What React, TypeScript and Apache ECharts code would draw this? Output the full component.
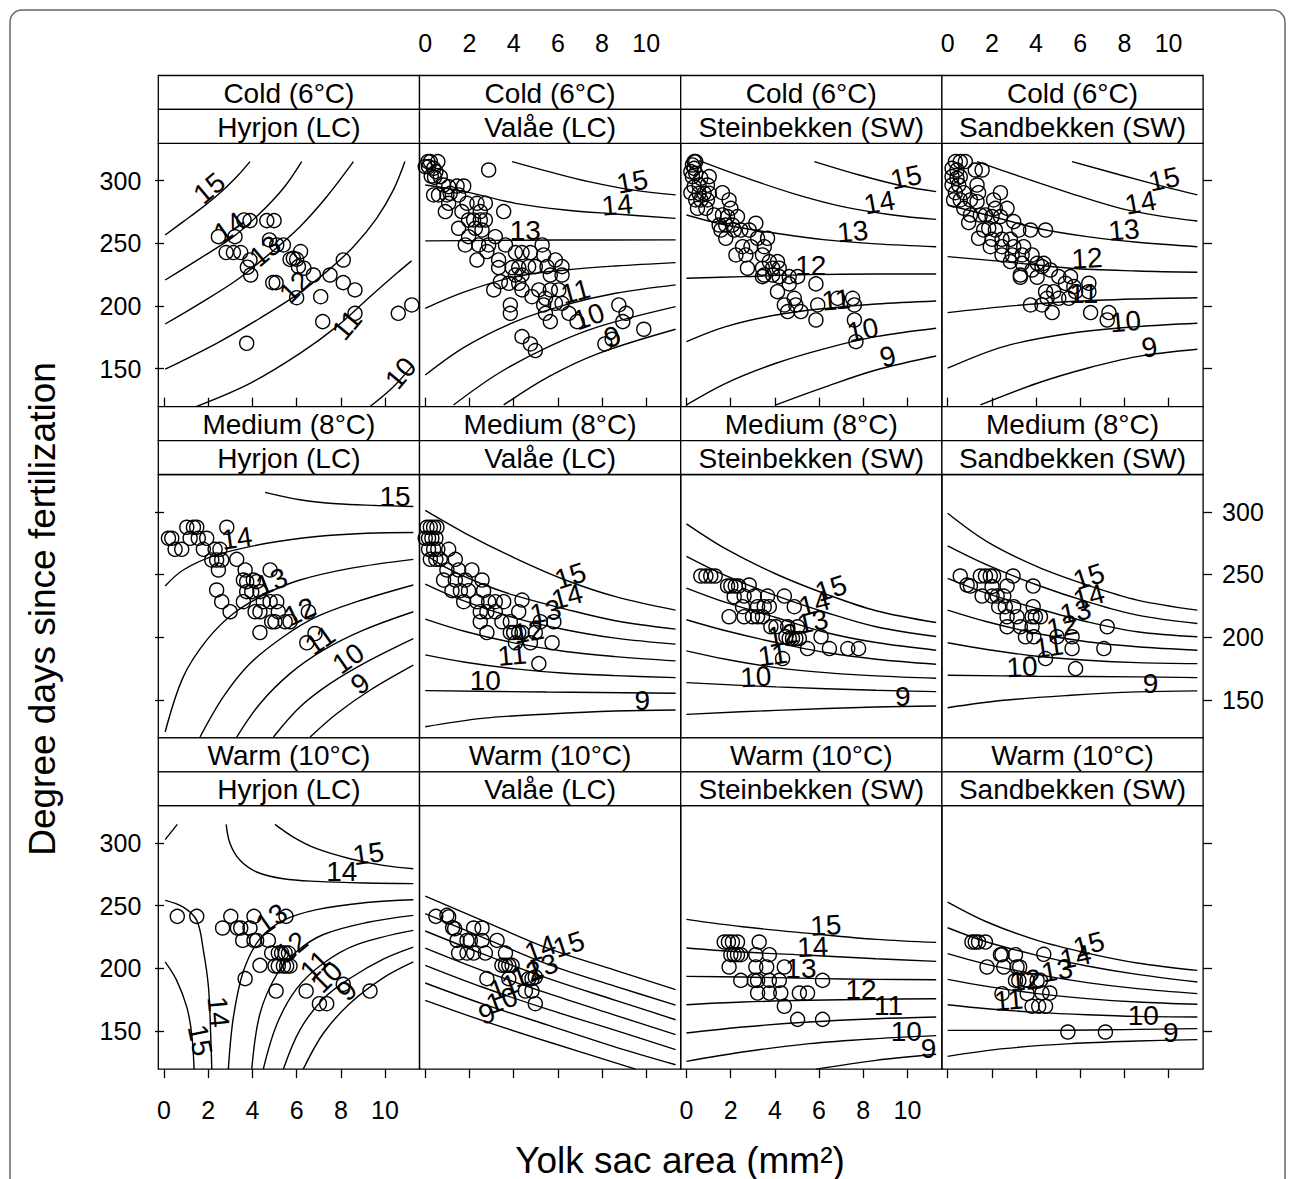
import React, { useEffect, useRef } from "react";
import * as echarts from "echarts";

// ---------- categories & ticks ----------
const temps = ["Cold (6°C)", "Medium (8°C)", "Warm (10°C)"];
const rivers = ["Hyrjon (LC)", "Valåe (LC)", "Steinbekken (SW)", "Sandbekken (SW)"];
const xTicks = [0, 2, 4, 6, 8, 10];
const yTicks = [150, 200, 250, 300];
const xRange = [-0.26, 11.56];
const yRange = [119.6, 329.8];
const xTitle = "Yolk sac area (mm²)";
const yTitle = "Degree days since fertilization";

// ---------- Cold / Hyrjon ----------
const ptsColdHyrjon = [[2.46,255.3],[3.21,255.3],[2.81,242.6],[3.14,242.6],[3.47,242.6],[3.62,268.6],[3.89,268.1],[4.65,268.1],[4.98,268.1],[3.89,236.7],[3.77,230.9],[3.92,224.7],[4.77,252.7],[5.10,248.7],[5.40,248.7],[5.70,237.2],[6.00,237.2],[6.18,243.4],[6.08,231.4],[6.33,230.1],[6.76,224.7],[7.51,224.7],[8.11,236.7],[8.11,218.6],[8.64,212.8],[4.92,218.6],[5.07,218.6],[6.00,206.6],[7.09,207.4],[7.18,187.5],[8.64,194.1],[3.74,170.2],[10.60,194.1],[11.21,200.8],[5.85,238.0]];
const cntColdHyrjon = [
  [15, [[0.05,256.6],[0.87,267.3],[1.78,279.3],[2.68,292.6],[3.36,304.5],[3.89,315.2]]],
  [14, [[0.05,220.7],[1.63,238.0],[3.14,255.3],[4.34,273.9],[5.40,293.9],[6.23,315.2]]],
  [13, [[0.05,185.6],[1.63,202.1],[3.29,220.7],[4.80,242.0],[6.15,263.3],[7.36,287.2],[8.57,315.2]]],
  [12, [[0.05,149.5],[2.38,170.2],[4.34,190.2],[6.00,208.8],[7.36,227.4],[8.57,247.3],[9.62,269.9],[10.38,292.6],[10.9,315.2]]],
  [11, [[1.45,119.7],[3.89,138.3],[6.15,162.2],[7.81,183.5],[9.32,207.4],[10.53,226.1],[11.2,236.0]]],
  [10, [[9.32,119.7],[10.38,135.6],[11.2,151.6]]],
];
const labColdHyrjon = [[2.05,293.9,"15",40],[2.96,262.8,"14",35],[4.57,243.9,"13",40],[5.93,215.4,"12",45],[8.27,184.8,"11",50],[10.71,146.3,"10",50]];

// ---------- Cold / Valåe ----------
const ptsColdValae = [[0.12,315.2],[0.23,315.2],[0.57,315.2],[0,311.2],[0.15,311.2],[0.38,309.8],[0.48,307.2],[0.27,303.7],[0.42,302.7],[0.68,303.2],[0.83,296.5],[1.06,295.2],[1.44,295.7],[1.74,295.7],[0.38,288.6],[0.60,288.6],[0.98,288.6],[1.13,289.9],[1.51,288.6],[1.06,281.9],[0.91,275.3],[1.89,281.9],[2.34,281.9],[2.72,281.9],[1.66,275.3],[2.49,275.3],[3.55,275.3],[1.51,262.0],[1.96,268.6],[2.19,268.6],[2.49,268.6],[2.72,268.6],[2.27,262.0],[2.57,260.6],[3.17,255.3],[1.96,255.3],[1.81,248.7],[2.42,248.7],[2.79,243.4],[2.87,248.7],[3.63,248.7],[2.34,236.7],[3.32,236.7],[4.08,242.6],[4.38,242.6],[4.76,242.6],[5.29,248.7],[5.36,240.7],[5.89,236.7],[3.32,230.6],[3.93,230.6],[4.23,230.6],[4.68,231.4],[4.98,231.4],[4.08,224.7],[4.38,224.7],[5.51,231.4],[5.66,224.7],[6.19,231.4],[6.19,224.7],[3.40,219.4],[3.78,218.1],[4.23,218.1],[3.10,212.8],[4.38,212.8],[4.83,207.4],[5.14,212.8],[5.66,212.8],[6.04,212.8],[5.44,206.1],[5.36,200.8],[5.89,202.1],[6.19,202.1],[3.85,200.8],[3.85,194.1],[5.44,194.1],[5.66,187.5],[6.50,194.1],[6.87,187.5],[4.38,175.5],[4.76,169.7],[4.98,164.4],[8.76,200.8],[9.09,194.1],[8.94,187.5],[9.89,181.4],[8.13,169.7],[8.46,173.4],[2.87,308.5]];
const cntColdValae = [
  [15, [[3.93,315.2],[5.59,307.2],[7.40,299.2],[9.37,292.6],[11.33,288.6]]],
  [14, [[0,296.5],[1.81,291.2],[4.08,281.9],[6.34,276.6],[8.61,273.4],[11.33,269.9]]],
  [13, [[0,251.9],[3,252.3],[6,252.6],[11.33,252.7]]],
  [12, [[0,198.1],[1.81,211.4],[4.08,223.4],[6.34,228.7],[8.61,231.9],[11.33,234.6]]],
  [11, [[0,144.9],[1.81,167.6],[4.08,187.5],[6.34,200.8],[8.61,210.1],[11.33,216.8]]],
  [10, [[1.28,121],[3.32,146.3],[5.59,167.6],[7.85,183.5],[11.33,199.5]]],
  [9, [[3.55,121],[5.59,143.6],[7.85,162.2],[11.33,181.4]]],
];
const labColdValae = [[9.37,299.2,"15",10],[8.69,280.6,"14",5],[4.53,260.1,"13",0],[6.80,211.4,"11",15],[7.40,191.5,"10",20],[8.46,175.5,"9",20]];

// ---------- Cold / Steinbekken ----------
const ptsColdStein = [[0.35,315.2],[0.42,315.2],[0.27,312.5],[0.35,309.8],[0.20,307.2],[0.27,303.2],[0.42,305.9],[0.65,301.9],[1.03,303.2],[0.95,296.5],[0.57,296.5],[0.35,295.2],[0.20,290.4],[0.57,289.9],[0.80,289.9],[1.03,289.9],[1.63,290.4],[0.42,284.6],[0.65,284.6],[0.95,284.6],[0.50,277.9],[0.88,277.9],[1.93,284.6],[2.01,277.9],[1.25,272.6],[1.63,272.6],[1.86,271.3],[2.31,271.3],[1.48,264.6],[1.78,264.6],[2.08,264.6],[2.46,260.6],[2.84,260.6],[3.14,266.0],[1.56,260.6],[1.78,254.0],[2.16,260.6],[3.22,254.0],[3.67,254.0],[2.54,247.3],[2.92,247.3],[3.52,247.3],[2.24,240.7],[2.69,240.7],[3.44,240.7],[3.75,235.4],[4.12,235.4],[2.76,230.1],[3.44,230.1],[3.90,230.1],[4.20,230.1],[3.52,224.7],[3.90,224.7],[4.20,223.4],[4.65,223.4],[5.03,223.4],[3.44,223.4],[4.65,217.6],[5.86,217.6],[4.12,211.4],[4.88,206.1],[4.95,200.8],[4.43,200.8],[4.58,195.5],[5.18,195.5],[5.94,200.8],[5.86,188.8],[6.84,206.1],[7.52,206.1],[7.60,200.8],[7.60,188.8],[7.67,171.5]];
const cntColdStein = [
  [15, [[5.79,315.2],[7.82,304.5],[9.79,295.7],[11.30,291.2]]],
  [14, [[0.57,316],[2.54,303.2],[4.80,289.9],[7.07,279.3],[9.34,272.6],[11.30,269.1]]],
  [13, [[0,272.6],[1.78,264.6],[4.05,258.0],[6.31,252.7],[8.58,249.5],[11.30,247.3]]],
  [12, [[0,222.1],[2.54,223.4],[5.56,225.0],[8.58,225.5],[11.30,225.5]]],
  [11, [[0,171.5],[1.78,183.5],[4.05,192.8],[6.31,198.1],[8.58,201.6],[11.30,204.0]]],
  [10, [[0,121],[1.78,138.3],[4.05,154.3],[6.31,166.2],[8.58,175.5],[11.30,182.2]]],
  [9, [[4.05,121],[6.31,135.6],[8.58,148.9],[11.30,160.1]]],
];
const labColdStein = [[9.94,302.7,"15",12],[8.73,282.7,"14",10],[7.52,259.3,"13",5],[5.63,231.9,"12",0],[6.77,204.8,"11",5],[7.98,180.9,"10",12],[9.11,159.6,"9",15]];

// ---------- Cold / Sandbekken ----------
const ptsColdSand = [[0.35,315.2],[0.57,315.2],[0.80,315.2],[0.20,309.8],[0.42,308.5],[0.20,303.2],[0.42,301.9],[0.57,303.2],[1.25,308.5],[1.56,308.5],[0.20,296.5],[0.50,296.5],[1.33,296.5],[0.35,290.4],[0.73,290.4],[1.40,290.4],[2.39,290.4],[0.27,284.6],[0.57,284.6],[1.03,284.6],[0.73,277.9],[1.33,283.2],[2.08,284.6],[2.16,277.9],[2.69,277.9],[1.03,272.6],[0.95,266.5],[1.48,272.6],[1.71,272.6],[2.01,271.3],[2.39,271.3],[2.99,267.3],[3.22,260.6],[3.75,260.6],[4.43,260.6],[1.63,260.6],[1.86,262.0],[2.16,260.6],[1.40,254.0],[2.01,253.2],[2.46,253.2],[2.84,253.2],[1.93,247.3],[2.46,247.3],[2.99,247.3],[3.44,247.3],[2.46,240.7],[2.92,240.7],[3.37,240.7],[3.82,240.7],[2.84,235.4],[3.37,234.0],[4.05,234.0],[4.35,234.0],[4.27,231.4],[3.82,228.7],[3.29,224.7],[3.29,222.9],[4.05,222.9],[4.65,228.7],[5.03,223.4],[5.56,223.4],[5.33,218.1],[5.71,215.4],[6.39,218.1],[6.39,211.4],[4.43,211.4],[4.80,211.4],[4.50,206.1],[5.03,206.1],[5.48,206.1],[5.79,211.4],[3.75,200.8],[4.27,200.8],[4.73,194.7],[6.47,194.7],[7.30,194.7],[7.22,188.8]];
const cntColdSand = [
  [15, [[5.63,315.2],[7.82,304.5],[9.79,295.2],[11.30,288.6]]],
  [14, [[1.33,315.2],[3.29,303.2],[5.56,289.9],[7.82,277.9],[9.79,271.3],[11.30,267.8]]],
  [13, [[0,280.6],[1.78,272.6],[4.05,262.0],[6.31,255.3],[8.58,250.8],[11.30,247.3]]],
  [12, [[0,239.4],[2.54,235.4],[5.56,230.1],[8.58,227.9],[11.30,226.9]]],
  [11, [[0,194.7],[2.54,199.5],[5.56,203.5],[8.58,205.6],[11.30,206.6]]],
  [10, [[0,150.3],[2.54,167.6],[5.56,178.2],[8.58,183.5],[11.30,186.2]]],
  [9, [[1.48,121],[4.05,138.3],[6.31,150.3],[8.58,159.6],[11.30,165.4]]],
];
const labColdSand = [[9.79,301.1,"15",12],[8.73,282.4,"14",10],[7.98,260.6,"13",5],[6.31,238.0,"12",3],[6.16,210.1,"11",0],[8.05,187.5,"10",5],[9.14,167.0,"9",10]];

// ---------- Medium / Hyrjon ----------
const ptsMedHyrjon = [[0.20,278.9],[0.35,278.9],[0.50,270.1],[0.80,270.1],[1.03,287.7],[1.33,287.7],[1.48,287.7],[1.55,278.9],[1.18,278.9],[1.93,278.9],[1.78,270.1],[2.31,270.1],[2.53,270.1],[2.84,287.7],[2.16,261.6],[2.38,261.6],[2.46,253.6],[2.61,261.6],[3.29,262.1],[3.67,253.6],[3.59,245.6],[3.74,244.3],[4.04,245.6],[4.19,244.3],[4.80,253.6],[2.38,237.6],[2.61,228.3],[2.99,220.3],[3.59,228.3],[3.74,236.3],[3.97,236.3],[4.34,236.3],[4.49,228.3],[4.80,228.3],[5.10,228.3],[4.12,220.3],[4.34,220.3],[5.17,220.3],[4.87,212.3],[5.02,212.3],[5.48,212.3],[5.70,212.3],[6.53,220.3],[4.34,203.7],[6.46,195.5],[6.83,202.9]];
const cntMedHyrjon = [
  [15, [[4.57,315.5],[6.15,309.6],[7.81,306.4],[9.62,305.1],[11.28,304.3]]],
  [14, [[0.05,240.8],[0.87,253.6],[2.38,265.6],[4.65,274.9],[6.91,280.3],[9.17,282.9],[11.28,283.5]]],
  [13, [[0.05,124.3],[0.87,168.3],[1.93,197.6],[3.14,218.9],[4.65,234.9],[6.15,245.6],[8.42,254.9],[11.28,262.1]]],
  [12, [[1.63,120.3],[2.68,152.3],[3.89,178.9],[5.40,200.3],[6.91,216.3],[8.72,228.3],[11.28,241.6]]],
  [11, [[3.29,120.3],[4.34,146.9],[5.70,170.9],[7.21,189.6],[9.02,205.6],[11.28,220.3]]],
  [10, [[4.95,120.3],[6.15,144.3],[7.51,162.9],[9.17,180.3],[11.28,198.9]]],
  [9, [[6.61,120.3],[7.81,138.9],[9.32,157.6],[11.28,177.6]]],
];
const labMedHyrjon = [[10.45,312.3,"15",0],[3.29,278.9,"14",8],[4.87,244.3,"13",22],[6.15,220.3,"12",25],[7.06,197.6,"11",35],[8.34,182.9,"10",35],[8.87,162.9,"9",35]];

// ---------- Medium / Valåe ----------
const ptsMedValae = [[0.08,287.7],[0.23,287.7],[0.38,287.7],[0.53,287.7],[0,278.9],[0.15,278.9],[0.30,278.9],[0.48,278.9],[0.15,270.1],[0.38,270.1],[0.57,270.1],[1.06,270.1],[0.23,262.1],[0.48,262.1],[0.68,262.1],[1.36,262.1],[0.98,253.6],[1.51,253.6],[2.11,253.6],[0.83,245.6],[1.36,245.6],[1.81,245.6],[2.57,245.6],[1.21,237.1],[1.59,237.1],[1.96,237.1],[2.64,237.1],[1.74,228.3],[2.34,228.3],[2.87,228.3],[3.17,228.3],[3.55,228.3],[4.38,229.6],[2.49,220.3],[2.79,220.3],[3.17,220.3],[4.23,220.3],[2.49,212.3],[3.47,212.3],[3.85,212.3],[5.21,212.3],[5.82,212.3],[2.79,203.7],[3.85,203.7],[4.00,203.7],[4.23,203.7],[4.38,203.7],[4.98,203.7],[4.08,195.5],[4.76,195.5],[5.74,195.5],[5.14,178.9]];
const cntMedValae = [
  [15, [[0,301.1],[1.81,282.9],[4.08,262.9],[6.34,245.6],[8.61,232.3],[11.33,221.6]]],
  [14, [[0,266.1],[1.06,254.4],[2.57,242.4],[4.08,233.1],[6.34,222.4],[8.61,213.1],[11.33,206.4]]],
  [13, [[0,242.4],[1.81,228.5],[4.08,215.2],[6.34,205.9],[8.61,199.2],[11.33,194.4]]],
  [12, [[0,214.4],[1.81,204.5],[4.08,195.2],[6.34,188.5],[8.61,184.5],[11.33,181.1]]],
  [11, [[0,185.9],[1.81,180.0],[4.08,174.7],[6.34,171.2],[8.61,169.3],[11.33,167.7]]],
  [10, [[0,157.3],[5.5,156.2],[11.33,155.2]]],
  [9, [[0,128.5],[2.57,135.2],[5.59,138.7],[8.61,141.1],[11.33,141.9]]],
];
const labMedValae = [[6.57,248.8,"15",18],[6.42,232.3,"14",15],[5.44,220.3,"13",12],[4.68,204.3,"12",10],[3.93,185.6,"11",5],[2.72,165.1,"10",0],[9.82,149.6,"9",0]];

// ---------- Medium / Steinbekken ----------
const ptsMedStein = [[0.65,248.8],[0.88,248.8],[1.10,248.8],[1.30,248.8],[1.86,240.8],[2.01,240.8],[2.21,240.8],[2.36,240.8],[2.84,241.6],[2.16,232.3],[2.61,232.8],[3.07,232.8],[3.67,232.8],[4.43,232.8],[2.54,224.3],[3.22,224.3],[3.52,224.3],[3.75,224.3],[4.88,224.3],[1.93,216.3],[2.61,216.3],[2.99,216.3],[3.22,216.3],[3.44,216.3],[3.82,208.3],[4.05,208.3],[4.58,208.3],[5.03,208.3],[4.50,200.3],[4.65,198.9],[4.80,198.9],[4.95,198.9],[5.11,198.9],[5.48,190.9],[6.09,200.3],[6.47,190.9],[7.30,190.9],[7.79,190.9],[4.35,182.9]];
const cntMedStein = [
  [15, [[0,290.4],[1.78,270.4],[4.05,250.4],[6.31,234.4],[8.58,221.1],[11.30,211.7]]],
  [14, [[0,264.5],[1.78,249.1],[4.05,233.1],[6.31,219.7],[8.58,208.3],[11.30,200.5]]],
  [13, [[0,239.2],[1.78,227.7],[4.05,215.7],[6.31,203.7],[8.58,195.7],[11.30,189.6]]],
  [12, [[0,213.9],[1.78,205.1],[4.05,195.7],[6.31,187.7],[8.58,182.4],[11.30,178.4]]],
  [11, [[0,189.1],[1.78,182.4],[4.05,175.7],[6.31,171.7],[8.58,169.1],[11.30,167.2]]],
  [10, [[0,163.7],[4.05,160.3],[8.58,157.6],[11.30,156.5]]],
  [9, [[0,138.4],[4.05,141.6],[8.58,144.3],[11.30,145.1]]],
];
const labMedStein = [[6.54,238.9,"15",18],[5.79,226.9,"14",15],[5.71,212.3,"13",12],[4.35,201.6,"12",10],[3.90,185.6,"11",8],[3.14,168.3,"10",3],[9.79,152.3,"9",0]];

// ---------- Medium / Sandbekken ----------
const ptsMedSand = [[0.57,248.8],[0.88,241.6],[1.03,240.8],[1.48,248.8],[1.71,248.8],[1.93,248.8],[2.08,248.8],[2.96,248.8],[1.56,232.8],[2.01,240.3],[2.01,232.8],[2.24,232.8],[2.54,232.8],[2.69,240.8],[2.31,224.3],[2.61,224.3],[2.99,224.3],[3.87,240.8],[2.69,216.3],[3.14,216.3],[3.82,216.3],[3.97,216.3],[4.20,216.3],[3.87,224.3],[2.69,208.3],[3.29,208.3],[3.82,208.3],[3.52,200.3],[3.90,200.3],[4.95,200.3],[5.63,200.3],[4.43,182.9],[5.63,190.9],[5.79,174.9],[7.07,190.9],[7.22,208.3]];
const cntMedSand = [
  [15, [[0,298.9],[1.78,276.3],[4.05,256.3],[6.31,241.6],[8.58,229.6],[11.30,221.6]]],
  [14, [[0,272.8],[1.78,257.6],[4.05,241.6],[6.31,228.3],[8.58,217.6],[11.30,210.9]]],
  [13, [[0,246.9],[1.78,234.9],[4.05,222.9],[6.31,212.3],[8.58,204.3],[11.30,200.3]]],
  [12, [[0,221.6],[1.78,212.3],[4.05,202.9],[6.31,196.3],[8.58,192.3],[11.30,189.6]]],
  [11, [[0,195.5],[1.78,190.1],[4.05,184.8],[6.31,181.6],[8.58,179.7],[11.30,178.9]]],
  [10, [[0,169.6],[4.05,168.8],[8.58,168.3],[11.30,167.7]]],
  [9, [[0,143.7],[2.54,149.6],[5.56,153.6],[8.58,156.3],[11.30,157.1]]],
];
const labMedSand = [[6.39,248.3,"15",18],[6.39,232.3,"14",15],[5.79,220.3,"13",12],[5.18,208.3,"12",10],[4.58,192.3,"11",8],[3.37,176.3,"10",3],[9.18,162.9,"9",0]];

// ---------- Warm / Hyrjon ----------
const ptsWarmHyrjon = [[0.60,241.5],[1.48,241.5],[3.02,241.5],[4.07,241.5],[5.52,241.5],[2.65,232.2],[3.32,232.2],[3.47,232.2],[3.89,232.2],[3.56,222.3],[4.07,222.3],[4.19,222.3],[4.72,222.3],[4.87,212.2],[5.17,212.2],[5.32,212.2],[5.48,212.2],[5.63,212.2],[4.34,202.4],[5.02,201.9],[5.17,201.9],[5.40,201.9],[5.55,201.9],[5.70,201.9],[3.67,191.8],[5.07,181.9],[6.43,181.9],[7.03,171.8],[7.36,171.8],[8.11,187.2],[9.32,181.9]];
const cntWarmHyrjon = [
  [15, [[0.05,302.7],[0.60,314.9]]],
  [14, [[2.81,314.9],[2.99,299.5],[3.44,286.2],[4.19,276.9],[5.40,271.5],[6.91,269.4],[9.17,268.1],[11.28,267.6]]],
  [15, [[5.02,314.9],[5.85,304.8],[6.91,295.5],[8.42,287.5],[9.92,282.2],[11.28,279.5]]],
  [14, [[0.05,254.3],[0.87,248.9],[1.48,238.3],[1.78,214.4],[2.01,185.1],[2.11,147.9],[2.16,119.6]]],
  [15, [[0.05,205.1],[0.57,190.4],[1.03,169.1],[1.25,147.9],[1.36,119.6]]],
  [13, [[2.91,119.6],[3.14,161.2],[3.59,197.7],[4.34,223.7],[5.40,238.3],[6.91,246.9],[9.17,252.6],[11.28,254.8]]],
  [12, [[3.97,119.6],[4.34,163.8],[5.10,195.1],[6.00,213.4],[7.21,227.0],[9.17,236.6],[11.28,242.3]]],
  [11, [[4.49,119.6],[5.10,155.2],[6.00,183.8],[7.21,204.1],[8.72,219.0],[11.28,230.3]]],
  [10, [[5.40,119.6],[6.15,150.9],[7.21,175.8],[8.42,192.1],[9.92,207.4],[11.28,217.0]]],
  [9, [[6.30,119.6],[7.21,148.2],[8.42,172.1],[9.92,192.4],[11.28,205.1]]],
];
const labWarmHyrjon = [[9.25,291.5,"15",8],[8.04,276.9,"14",0],[2.46,165.2,"14",-85],[1.63,142.6,"15",-78],[4.87,239.6,"13",35],[5.78,217.0,"12",40],[6.83,202.4,"11",45],[7.36,193.1,"10",45],[8.27,182.4,"9",45]];

// ---------- Warm / Valåe ----------
const ptsWarmValae = [[0.48,241.5],[0.98,242.3],[1.06,241.0],[1.24,232.4],[1.33,231.6],[2.19,232.2],[2.57,232.2],[1.44,222.3],[1.89,222.3],[2.04,222.3],[2.57,222.3],[3.25,222.3],[1.51,212.2],[1.89,212.2],[2.19,212.2],[2.72,212.2],[3.63,212.2],[3.47,202.4],[3.63,202.4],[3.78,202.4],[3.93,202.4],[2.79,191.8],[3.78,191.8],[4.68,191.8],[4.83,191.8],[4.98,193.1],[4.53,181.9],[4.83,181.9],[4.98,171.8]];
const cntWarmValae = [
  [15, [[0,257.7],[2.57,238.3],[5.59,215.7],[8.61,198.4],[11.33,183.0]]],
  [14, [[0,243.6],[2.57,225.0],[5.59,202.9],[8.61,185.6],[11.33,170.7]]],
  [13, [[0,229.8],[2.57,211.7],[5.59,191.8],[8.61,174.5],[11.33,159.0]]],
  [12, [[0,216.2],[2.57,198.4],[5.59,179.8],[8.61,162.5],[11.33,147.1]]],
  [11, [[0,202.4],[2.57,185.1],[5.59,167.0],[8.61,150.5],[11.33,135.1]]],
  [10, [[0,188.3],[2.57,171.8],[5.59,154.5],[8.61,137.2],[11.33,123.1]]],
  [9, [[0,174.5],[2.57,158.5],[5.59,141.2],[9.52,119.6]]],
];
const labWarmValae = [[6.50,219.1,"15",18],[5.21,215.7,"14",20],[5.29,201.1,"13",20],[4.61,195.7,"12",20],[3.55,185.1,"11",20],[3.47,174.5,"10",20],[2.79,163.8,"9",20]];

// ---------- Warm / Steinbekken ----------
const ptsWarmStein = [[1.71,221.0],[1.90,221.0],[2.08,221.0],[2.31,221.0],[3.29,221.0],[2.01,210.9],[2.16,210.9],[2.31,210.9],[2.46,210.9],[3.14,210.9],[3.75,210.9],[1.93,201.1],[3.14,201.1],[3.63,201.1],[4.43,201.1],[2.46,190.4],[3.07,190.4],[3.22,190.4],[3.75,190.4],[4.20,190.4],[6.16,190.4],[3.22,180.3],[3.75,180.3],[4.27,180.3],[5.11,180.3],[5.48,180.3],[4.43,169.7],[5.03,159.3],[6.16,159.3]];
const cntWarmStein = [
  [15, [[0,239.1],[2.54,233.2],[5.56,227.9],[8.58,223.1],[11.30,220.7]]],
  [14, [[0,216.2],[2.54,213.0],[5.56,210.4],[8.58,207.7],[11.30,205.6]]],
  [13, [[0,193.6],[2.54,193.1],[5.56,192.0],[8.58,191.2],[11.30,190.9]]],
  [12, [[0,171.0],[2.54,173.1],[5.56,174.5],[8.58,175.3],[11.30,175.8]]],
  [11, [[0,148.4],[2.54,153.2],[5.56,157.2],[8.58,159.8],[11.30,161.2]]],
  [10, [[0,125.8],[2.54,133.2],[5.56,139.9],[8.58,143.9],[11.30,146.3]]],
  [9, [[5.86,119.6],[8.58,126.6],[11.30,131.4]]],
];
const labWarmStein = [[6.31,234.3,"15",3],[5.71,217.0,"14",2],[5.18,199.7,"13",0],[7.90,183.5,"12",0],[9.15,170.0,"11",0],[9.95,149.5,"10",0],[10.95,136.2,"9",0]];

// ---------- Warm / Sandbekken ----------
const ptsWarmSand = [[1.10,221.0],[1.25,221.0],[1.40,221.0],[1.71,221.0],[2.39,210.9],[2.46,210.9],[3.07,210.9],[4.35,211.2],[1.78,201.1],[2.54,201.1],[3.14,201.1],[3.26,201.1],[3.07,190.4],[3.22,190.4],[3.60,190.4],[4.05,190.4],[4.20,190.4],[2.46,179.8],[3.60,179.8],[4.27,180.3],[4.62,180.3],[3.82,169.7],[4.12,169.7],[4.43,169.7],[5.44,149.2],[7.14,149.2]];
const cntWarmSand = [
  [15, [[0,252.9],[1.78,237.0],[4.05,222.3],[6.31,212.2],[8.58,204.3],[11.30,198.4]]],
  [14, [[0,232.4],[1.78,221.0],[4.05,210.4],[6.31,201.9],[8.58,195.2],[11.30,189.1]]],
  [13, [[0,211.7],[1.78,203.2],[4.05,195.2],[6.31,188.6],[8.58,183.8],[11.30,179.8]]],
  [12, [[0,191.2],[1.78,185.6],[4.05,179.8],[6.31,175.8],[8.58,173.1],[11.30,171.3]]],
  [11, [[0,171.0],[1.78,167.8],[4.05,164.9],[6.31,163.0],[8.58,161.7],[11.30,161.2]]],
  [10, [[0,150.5],[4.05,150.5],[8.58,151.3],[11.30,151.9]]],
  [9, [[0,129.8],[2.54,135.9],[5.56,139.9],[8.58,142.0],[11.30,143.1]]],
];
const labWarmSand = [[6.39,219.1,"15",15],[5.79,209.0,"14",12],[4.95,198.4,"13",10],[3.52,190.4,"12",5],[2.76,174.5,"11",5],[8.85,162.0,"10",0],[10.1,148.5,"9",0]];

const panels = [
  { pts: ptsColdHyrjon, cnt: cntColdHyrjon, lab: labColdHyrjon },
  { pts: ptsColdValae, cnt: cntColdValae, lab: labColdValae },
  { pts: ptsColdStein, cnt: cntColdStein, lab: labColdStein },
  { pts: ptsColdSand, cnt: cntColdSand, lab: labColdSand },
  { pts: ptsMedHyrjon, cnt: cntMedHyrjon, lab: labMedHyrjon },
  { pts: ptsMedValae, cnt: cntMedValae, lab: labMedValae },
  { pts: ptsMedStein, cnt: cntMedStein, lab: labMedStein },
  { pts: ptsMedSand, cnt: cntMedSand, lab: labMedSand },
  { pts: ptsWarmHyrjon, cnt: cntWarmHyrjon, lab: labWarmHyrjon },
  { pts: ptsWarmValae, cnt: cntWarmValae, lab: labWarmValae },
  { pts: ptsWarmStein, cnt: cntWarmStein, lab: labWarmStein },
  { pts: ptsWarmSand, cnt: cntWarmSand, lab: labWarmSand },
];

// ---------- layout ----------
const FONT = "'Liberation Sans', Arial, Helvetica, sans-serif";
const L0 = 158.3;
const PW = 261.2;
const T0 = 143.3;
const PH = 263.4;
const SH = 33.9;
const RS = PH + 2 * SH;
const TICK_FS = 25;
const STRIP_FS = 28;
const LAB_FS = 28;
const TITLE_FS = 37;

function tickStyle() {
  return { show: true, inside: false, length: 9, lineStyle: { color: "#000", width: 1.3 } };
}

export default function App() {
  const ref = useRef<HTMLDivElement>(null);
  useEffect(() => {
    if (!ref.current) return;
    const chart = echarts.init(ref.current, null, { renderer: "svg" });
    const grids: any[] = [];
    const xAxes: any[] = [];
    const yAxes: any[] = [];
    const series: any[] = [];
    const graphics: any[] = [];
    const labelBase = { color: "#000", fontSize: TICK_FS, fontFamily: FONT };
    const contourLabel = {
      show: true, position: "inside", formatter: "{b}", color: "#000", opacity: 1,
      fontSize: LAB_FS, fontFamily: FONT, textBorderWidth: 0, textShadowBlur: 0,
    };

    for (let r = 0; r < 3; r++) {
      for (let c = 0; c < 4; c++) {
        const i = r * 4 + c;
        const left = L0 + c * PW;
        const top = T0 + r * RS;
        grids.push({ left, top, width: PW, height: PH, show: true, borderColor: "#000", borderWidth: 1.3, backgroundColor: "rgba(0,0,0,0)" });
        xAxes.push({
          type: "value", gridIndex: i, min: xRange[0], max: xRange[1], position: "bottom",
          show: r === 2,
          axisLine: { show: false }, splitLine: { show: false },
          axisTick: { ...tickStyle(), customValues: xTicks },
          axisLabel: { ...labelBase, show: c === 0 || c === 2, customValues: xTicks, margin: 28 },
        });
        yAxes.push({
          type: "value", gridIndex: i, min: yRange[0], max: yRange[1], position: "left",
          show: c === 0,
          axisLine: { show: false }, splitLine: { show: false },
          axisTick: { ...tickStyle(), customValues: yTicks },
          axisLabel: { ...labelBase, show: r !== 1, customValues: yTicks, margin: 17 },
        });
        const strips = [temps[r], rivers[c]];
        strips.forEach((txt, k) => {
          const sy = top - 2 * SH + k * SH;
          graphics.push({
            type: "rect", shape: { x: left, y: sy, width: PW, height: SH },
            style: { fill: "#fff", stroke: "#000", lineWidth: 1.3 }, silent: true, z: 10,
          });
          graphics.push({
            type: "text", x: left + PW / 2, y: sy + SH / 2 + 1,
            style: { text: txt, fontSize: STRIP_FS, fontFamily: FONT, fill: "#000", textAlign: "center", textVerticalAlign: "middle", align: "center", verticalAlign: "middle" },
            silent: true, z: 11,
          });
        });
        const p = panels[i];
        p.cnt.forEach((cn: any) => {
          series.push({
            type: "line", xAxisIndex: i, yAxisIndex: i, data: cn[1], name: "level " + cn[0],
            symbol: "none", showSymbol: false, smooth: 0.35, silent: true, clip: true,
            lineStyle: { color: "#000", width: 1.4 }, z: 2,
          });
        });
        series.push({
          type: "scatter", xAxisIndex: i, yAxisIndex: i, symbol: "circle", symbolSize: 1, silent: true,
          itemStyle: { color: "rgba(0,0,0,0)" }, z: 3,
          label: contourLabel,
          data: p.lab.map((l: any) => ({ name: l[2], value: [l[0], l[1]], label: { ...contourLabel, rotate: l[3] } })),
        });
        series.push({
          type: "scatter", xAxisIndex: i, yAxisIndex: i, symbol: "circle", symbolSize: 14, silent: true,
          itemStyle: { color: "rgba(0,0,0,0)", borderColor: "#000", borderWidth: 1.4, opacity: 1 }, z: 4,
          data: p.pts,
        });
      }
    }
    for (let r = 0; r < 3; r++) {
      yAxes.push({
        type: "value", gridIndex: r * 4 + 3, min: yRange[0], max: yRange[1], position: "right",
        axisLine: { show: false }, splitLine: { show: false },
        axisTick: { ...tickStyle(), customValues: yTicks },
        axisLabel: { ...labelBase, show: r === 1, customValues: yTicks, margin: 19 },
      });
    }
    for (let c = 0; c < 4; c++) {
      const gi = grids.length;
      grids.push({ left: L0 + c * PW, top: T0 - 2 * SH, width: PW, height: PH + 2 * SH, show: false });
      xAxes.push({
        type: "value", gridIndex: gi, min: xRange[0], max: xRange[1], position: "top",
        axisLine: { show: false }, splitLine: { show: false },
        axisTick: { ...tickStyle(), customValues: xTicks },
        axisLabel: { ...labelBase, show: c === 1 || c === 3, customValues: xTicks, margin: 20 },
      });
      yAxes.push({ type: "value", gridIndex: gi, min: 0, max: 1, show: false });
    }

    graphics.push({
      type: "text", x: 42, y: 609, rotation: Math.PI / 2,
      style: { text: yTitle, fontSize: TITLE_FS, fontFamily: FONT, fill: "#000", textAlign: "center", textVerticalAlign: "middle", align: "center", verticalAlign: "middle" },
      silent: true,
    });
    graphics.push({
      type: "text", x: 680, y: 1160,
      style: { text: xTitle, fontSize: TITLE_FS, fontFamily: FONT, fill: "#000", textAlign: "center", textVerticalAlign: "middle", align: "center", verticalAlign: "middle" },
      silent: true,
    });
    graphics.push({
      type: "rect", shape: { x: 10, y: 10, width: 1275, height: 1260, r: 12 },
      style: { fill: "none", stroke: "#666", lineWidth: 1.5 }, silent: true,
    });

    chart.setOption({
      animation: false,
      backgroundColor: "#fff",
      grid: grids,
      xAxis: xAxes,
      yAxis: yAxes,
      series,
      graphic: { elements: graphics },
    });
    return () => chart.dispose();
  }, []);
  return <div ref={ref} style={{ position: "absolute", left: 0, top: 0, width: 1295, height: 1179 }} />;
}
